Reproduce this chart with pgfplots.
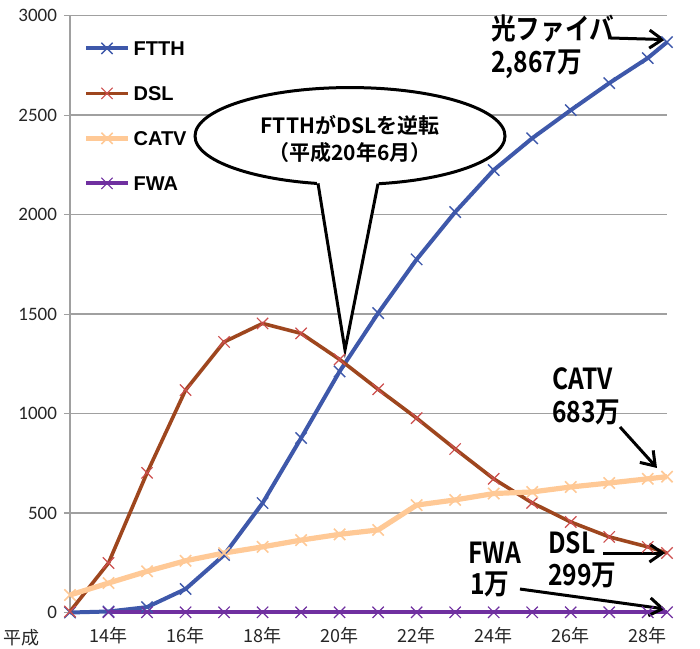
\documentclass[border=0pt]{standalone}
\usepackage{fontspec}
\setmainfont{Carlito}
\newfontfamily\jp{Noto Sans CJK JP}
\newfontfamily\jpb{Noto Sans CJK JP Bold}
\newfontfamily\legf{Liberation Sans Bold}
\usepackage{pgfplots}
\pgfplotsset{compat=1.18}
\usetikzlibrary{arrows.meta}

\definecolor{ftth}{RGB}{62,88,170}
\definecolor{dsl}{RGB}{158,70,30}
\definecolor{dslmark}{RGB}{205,78,78}
\definecolor{catv}{RGB}{255,201,150}
\definecolor{fwa}{RGB}{112,48,160}
\definecolor{gridc}{RGB}{160,160,160}

\tikzset{
  note/.style={font=\jpb\fontsize{14.5}{16}\selectfont, anchor=base west, inner sep=0pt, xscale=0.85},
  callarrow/.style={line width=1.5pt, -{Straight Barb[length=6.5pt,width=9pt]}},
}

\begin{document}
\begin{tikzpicture}
\begin{axis}[
  at={(0,0)}, anchor=south west,
  scale only axis, width=298.5pt, height=298.4pt,
  xmin=13, xmax=28.5, ymin=0, ymax=3000,
  clip=false,
  axis x line*=bottom, axis y line*=left,
  x axis line style={draw=none},
  y axis line style={draw=gridc, line width=0.6pt, -},
  xtick={14,16,...,28},
  xticklabels={14年,16年,18年,20年,22年,24年,26年,28年},
  xticklabel style={font=\jp\fontsize{9}{10}\selectfont, text=black!85, yshift=-1pt},
  ytick={0,500,...,3000},
  yticklabel style={font=\fontsize{9.5}{10}\selectfont, text=black!85},
  /pgf/number format/assume math mode=true,
  /pgf/number format/1000 sep={},
  x tick style={draw=none},
  y tick style={draw=gridc, line width=0.6pt},
  tick align=outside, major tick length=3pt,
  ymajorgrids, grid style={draw=gridc, line width=0.7pt},
  every axis plot/.append style={line join=round},
  legend style={at={(0.0218,0.9635)}, anchor=north west, draw=none, fill=none,
    inner sep=0pt, row sep=12pt, column sep=0pt, font=\legf\fontsize{10}{11}\selectfont,
    nodes={inner sep=1.5pt, text height=7.5pt, text depth=0pt}},
  legend cell align=left,
  legend image code/.code={\draw[mark repeat=2,mark phase=2,#1] plot coordinates {(0pt,0pt) (10.5pt,0pt) (21pt,0pt)};},
]
% FTTH
\addplot[ftth, line width=2pt, mark=x, mark size=4pt, mark options={ftth, line width=0.7pt}]
  coordinates {(13,0) (14,5) (15,27) (16,118) (17,289) (18,550) (19,877) (20,1212) (21,1505)
    (22,1775) (23,2013) (24,2224) (25,2384) (26,2525) (27,2661) (28,2787) (28.5,2867)};
% DSL
\addplot[dsl, line width=1.8pt, mark=x, mark size=4pt, mark options={dslmark, line width=0.6pt}]
  coordinates {(13,5) (14,249) (15,702) (16,1118) (17,1360) (18,1453) (19,1403) (20,1272) (21,1122)
    (22,977) (23,822) (24,672) (25,551) (26,455) (27,380) (28,330) (28.5,299)};
% CATV
\addplot[catv, line width=2.6pt, mark=x, mark size=4pt, mark options={catv, line width=0.8pt}]
  coordinates {(13,88) (14,148) (15,207) (16,260) (17,299) (18,330) (19,364) (20,393) (21,415)
    (22,540) (23,566) (24,598) (25,606) (26,631) (27,651) (28,672) (28.5,683)};
% FWA
\addplot[fwa, line width=2pt, mark=x, mark size=4pt, mark options={fwa, line width=0.6pt}]
  coordinates {(14,1) (15,1) (16,1) (17,1) (18,1) (19,1) (20,1) (21,1)
    (22,1) (23,1) (24,1) (25,1) (26,1) (27,1) (28,1) (28.5,1)};
\legend{FTTH,DSL,CATV,FWA}

\node[font=\jp\fontsize{9}{10}\selectfont, text=black!85] at (axis cs:11.746,0) [yshift=-12.5pt] {平成};

% callout
\draw[line width=1.5pt, fill=white] (axis cs:20.27,2395) ellipse [x radius=77.5pt, y radius=24.25pt];
\fill[white] (axis cs:19.387,2194) -- (axis cs:20.14,1319.5) -- (axis cs:21.049,2194) -- cycle;
\draw[line width=1.5pt, line join=miter] (axis cs:19.439,2157) -- (axis cs:20.14,1319.5) -- (axis cs:20.997,2155.5);
\node[font=\jpb\fontsize{10.5}{12}\selectfont] at (axis cs:20.27,2450.6) {FTTHがDSLを逆転};
\node[font=\jpb\fontsize{10.5}{12}\selectfont] at (axis cs:20.27,2309.8) {（平成20年6月）};

% end labels
\node[note] at (axis cs:23.93,2878) {光ファイバ};
\node[note] at (axis cs:23.93,2712) {2,867万};
\node[note] at (axis cs:25.51,1118.5) {CATV};
\node[note] at (axis cs:25.51,952.6) {683万};
\node[note] at (axis cs:23.333,248.8) {FWA};
\node[note] at (axis cs:23.385,88) {1万};
\node[note] at (axis cs:25.41,299) {DSL};
\node[note] at (axis cs:25.41,138) {299万};

\draw[callarrow] (axis cs:27.02,2888) -- (axis cs:28.45,2880);
\draw[callarrow] (axis cs:27.28,932.5) -- (axis cs:28.24,726.4);
\draw[callarrow] (axis cs:24.683,118) -- (axis cs:28.448,17.6);
\draw[callarrow] (axis cs:26.84,299) -- (axis cs:28.45,299);
\end{axis}
\pgfresetboundingbox
\useasboundingbox (-35pt,-17.75pt) rectangle (315pt,306.25pt);
\end{tikzpicture}
\end{document}
